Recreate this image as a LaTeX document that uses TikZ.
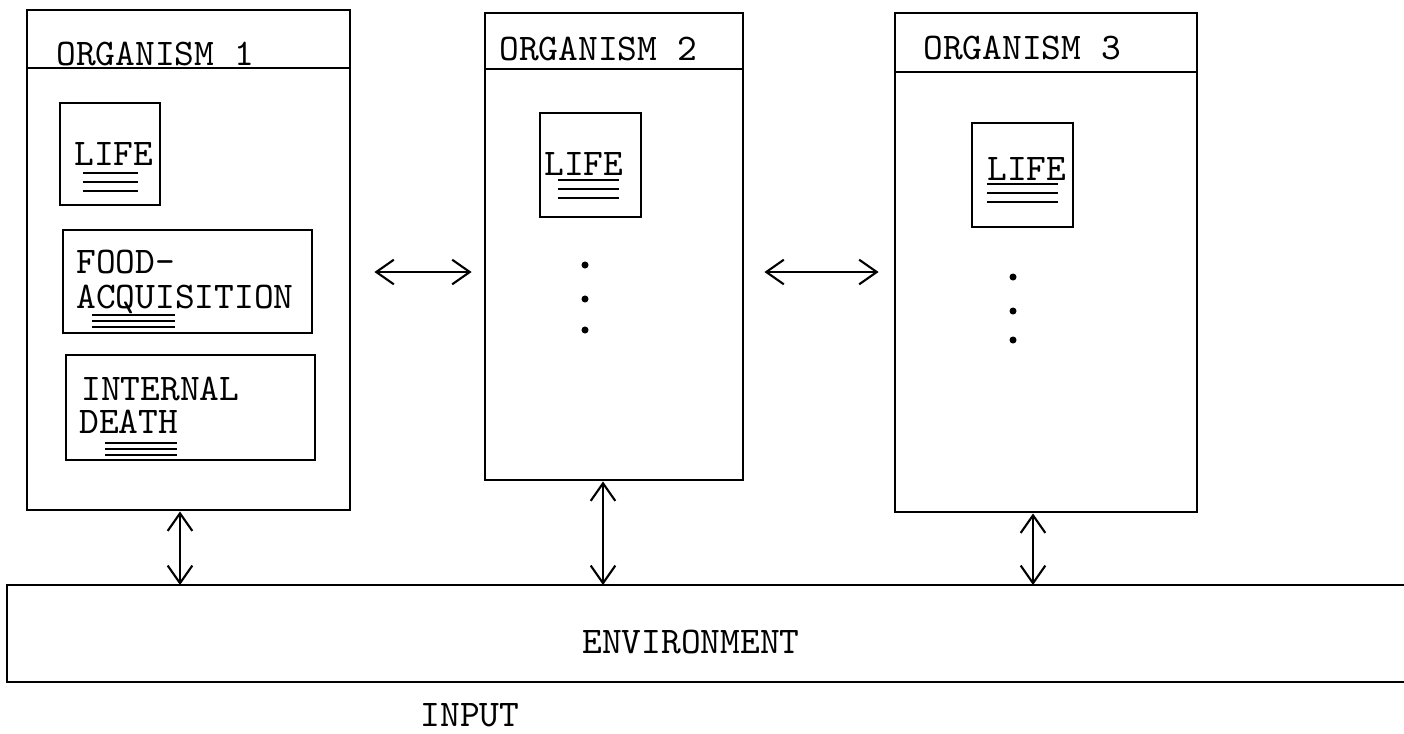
\documentclass[tikz,border=0pt]{standalone}
\usepackage{tikz}
\usetikzlibrary{arrows.meta,positioning,calc}

\begin{document}
\begin{tikzpicture}[x=0.01cm,y=-0.01cm,>={Straight Barb[length=5pt,width=7pt]},line width=0.75pt,
  orgbox/.style={draw,rectangle,inner sep=0pt},
  partbox/.style={draw,rectangle,inner sep=0pt},
  lbl/.style={font=\ttfamily\fontsize{10.7}{12}\selectfont,inner sep=0pt,anchor=base west},
  link/.style={<->,line width=0.6pt}]
  \useasboundingbox (0,0) rectangle (1404,733);
  \node[orgbox,minimum width=3.23cm,minimum height=5cm] (org1) at (188.5,260) {};
  \node[orgbox,minimum width=2.58cm,minimum height=4.67cm] (org2) at (614,246.5) {};
  \node[orgbox,minimum width=3.02cm,minimum height=4.99cm] (org3) at (1046,262.5) {};
  \draw (org1.west |- 0,68) -- (org1.east |- 0,68);
  \draw (org2.west |- 0,69) -- (org2.east |- 0,69);
  \draw (org3.west |- 0,72) -- (org3.east |- 0,72);
  \node[lbl] (title1) at (55,65) {ORGANISM 1};
  \node[lbl] (title2) at (498,60) {ORGANISM 2};
  \node[lbl] (title3) at (922,59) {ORGANISM 3};
  \node[partbox,minimum width=1cm,minimum height=1.02cm] (life1) at (110,154) {};
  \node[partbox,minimum width=2.49cm,minimum height=1.03cm] (food1) at (187.5,281.5) {};
  \node[partbox,minimum width=2.49cm,minimum height=1.05cm] (death1) at (190.5,407.5) {};
  \node[partbox,minimum width=1.01cm,minimum height=1.04cm] (life2) at (590.5,165) {};
  \node[partbox,minimum width=1.01cm,minimum height=1.04cm] (life3) at (1022.5,175) {};
  \node[lbl] (lifetext1) at (73,165) {LIFE};
  \node[lbl] (foodtext) at (75,273) {FOOD-};
  \node[lbl] (acqtext) at (75,308) {ACQUISITION};
  \node[lbl] (inttext) at (80,400) {INTERNAL};
  \node[lbl] (deathtext) at (78,433) {DEATH};
  \node[lbl] (lifetext2) at (543,175) {LIFE};
  \node[lbl] (lifetext3) at (986,180) {LIFE};
  \foreach \d in {0,9,18} {
    \draw[line width=0.5pt] (83,{173+\d}) -- (138,{173+\d});
    \draw[line width=0.5pt] (558,{180+\d}) -- (619,{180+\d});
    \draw[line width=0.5pt] (987,{184+\d}) -- (1058,{184+\d});
  }
  \foreach \d in {0,6,12} {
    \draw[line width=0.5pt] (92,{315+\d}) -- (175,{315+\d});
    \draw[line width=0.5pt] (105,{443+\d}) -- (177,{443+\d});
  }
  \foreach \y in {265,299,330} \fill (585,\y) circle[radius=1pt];
  \foreach \y in {277,311,340} \fill (1013,\y) circle[radius=1pt];
  \draw (1404,585) -- (7,585) -- (7,682) -- (1404,682);
  \coordinate (env1) at (180,585);
  \coordinate (env2) at (603,585);
  \coordinate (env3) at (1033,585);
  \node[lbl,anchor=base] (env) at (691,653) {ENVIRONMENT};
  \node[lbl,anchor=base] (input) at (470,726) {INPUT};
  \draw[link] (env1 |- org1.south) -- (env1);
  \draw[link] (env2 |- org2.south) -- (env2);
  \draw[link] (env3 |- org3.south) -- (env3);
  \draw[link,shorten <=0.23cm,shorten >=0.12cm] (org1.east |- 0,272) -- (org2.west |- 0,272);
  \draw[link,shorten <=0.2cm,shorten >=0.15cm] (org2.east |- 0,272) -- (org3.west |- 0,272);
\end{tikzpicture}
\end{document}
